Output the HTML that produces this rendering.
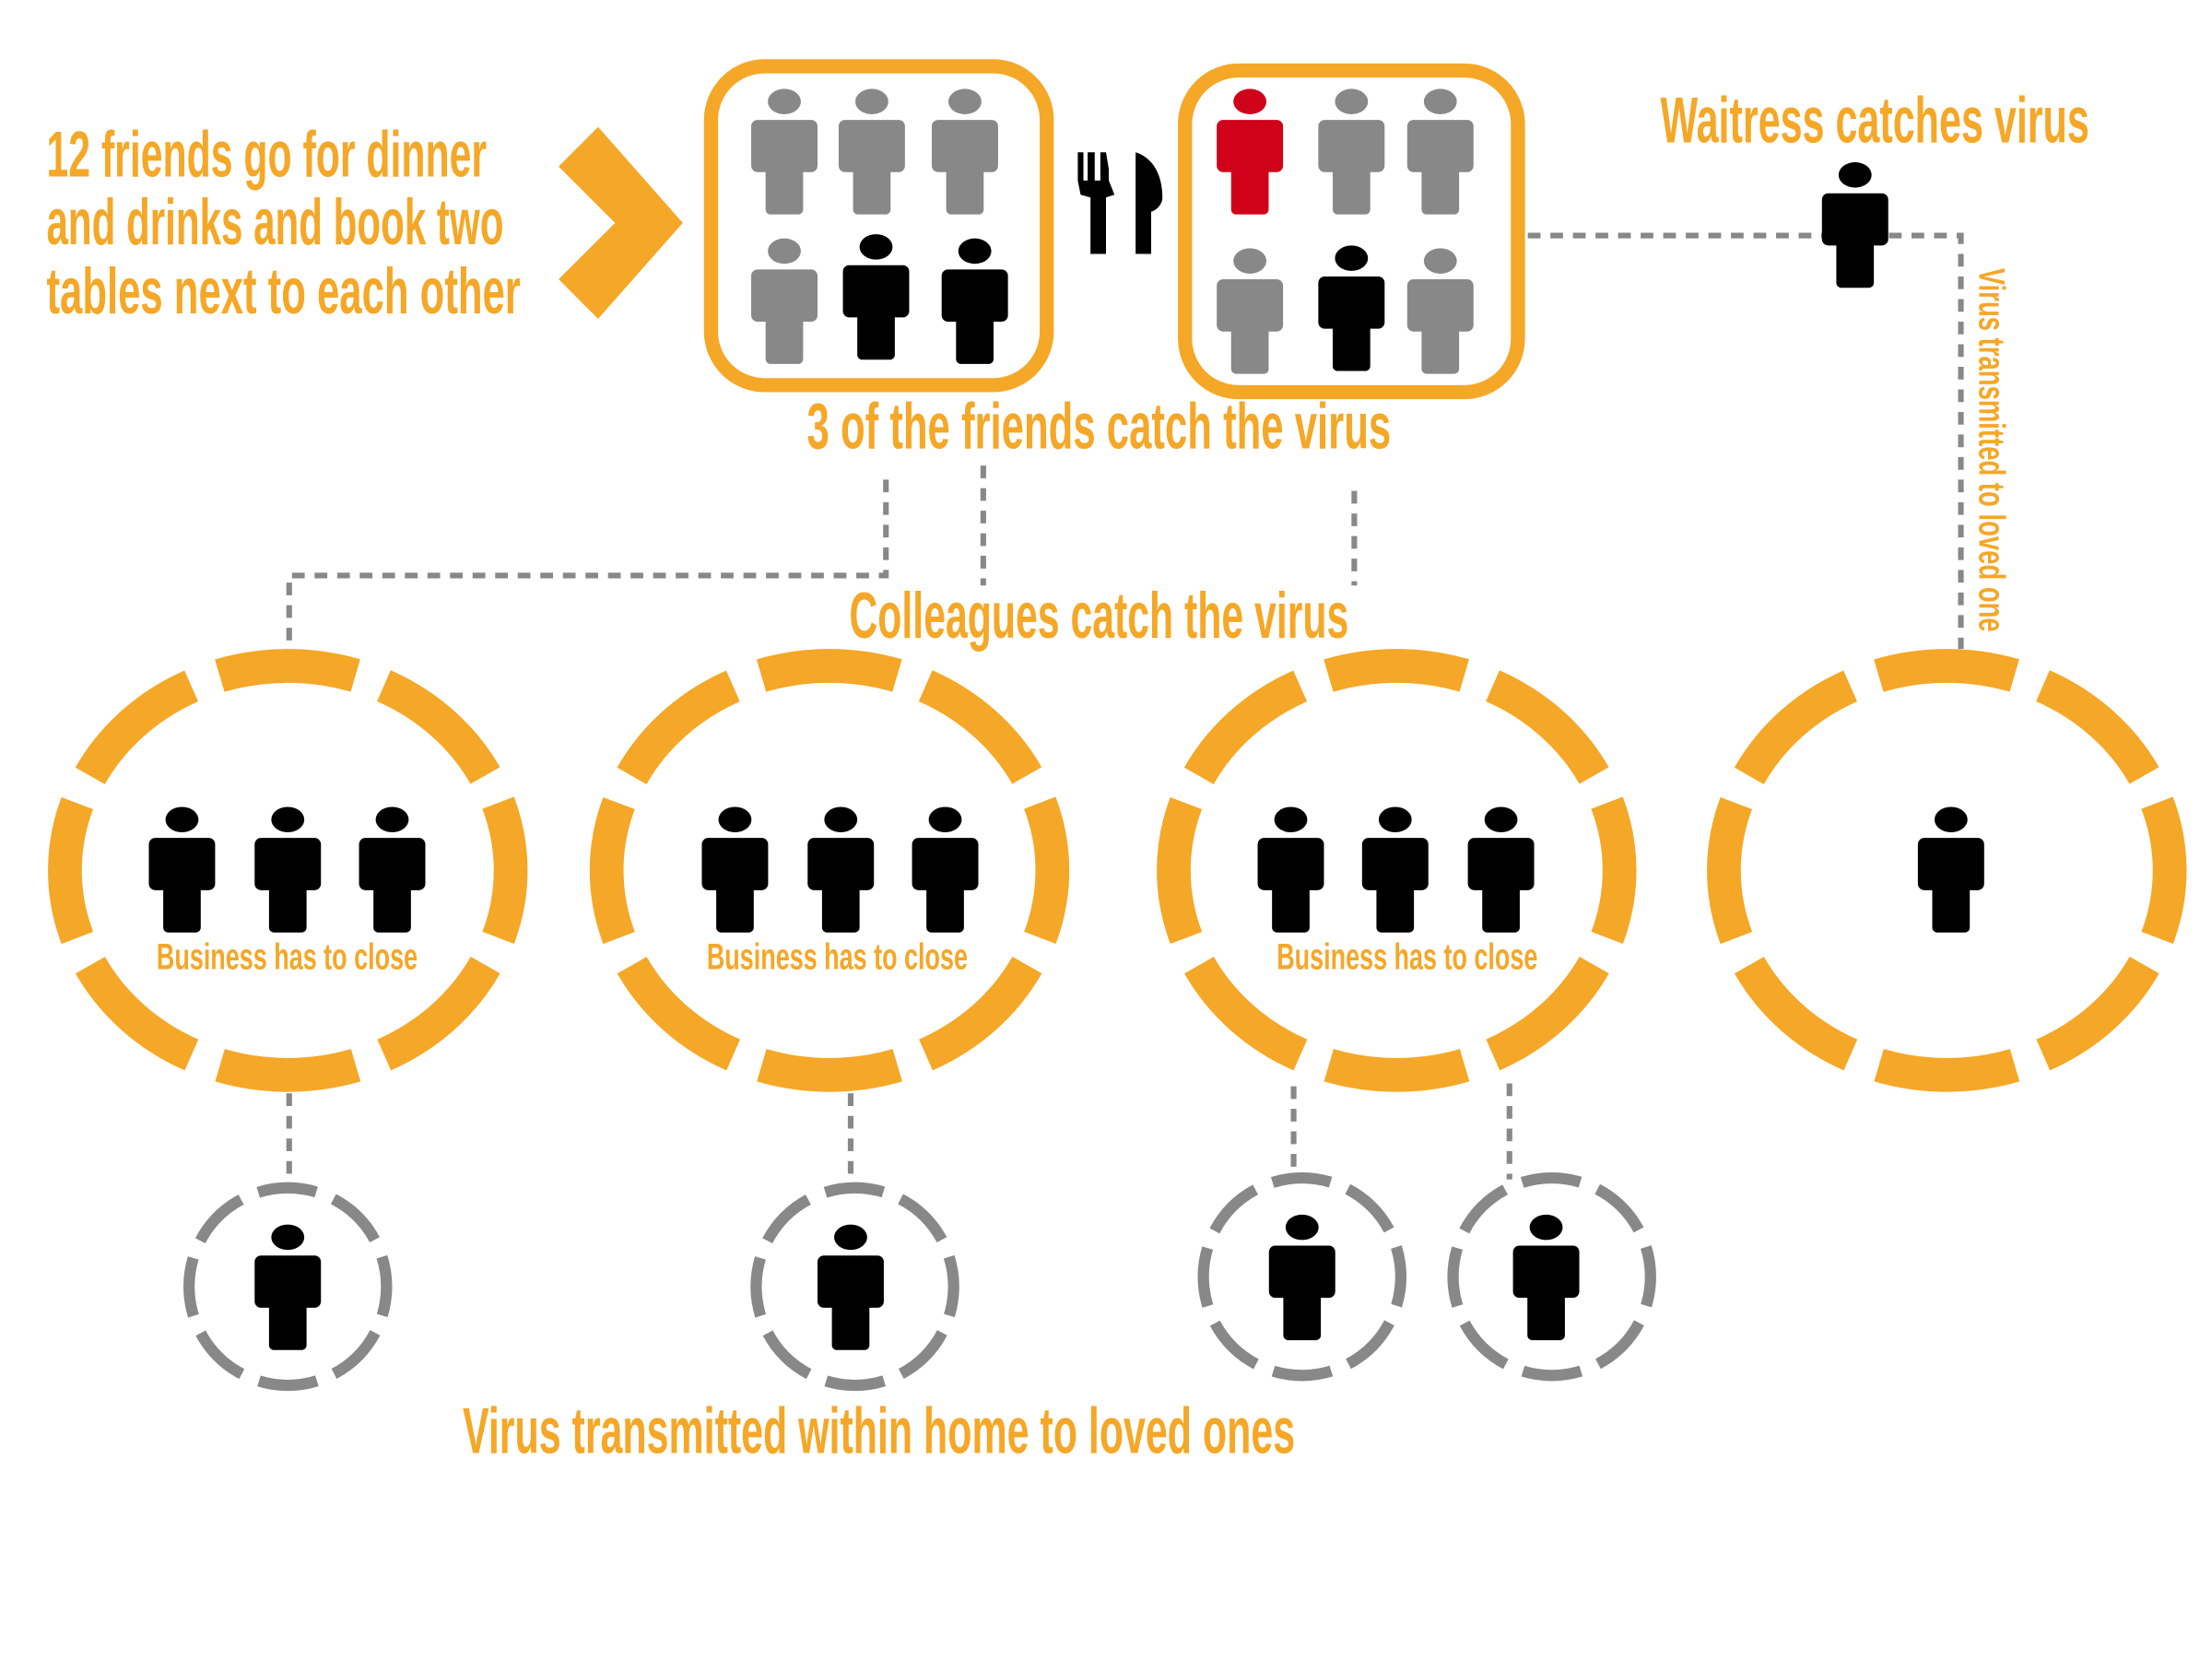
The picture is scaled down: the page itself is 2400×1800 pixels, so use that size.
<!DOCTYPE html>
<html><head><meta charset="utf-8"><style>
html,body{margin:0;padding:0;background:#fff;width:2400px;height:1800px;overflow:hidden}
text{font-family:"Liberation Sans Narrow","Liberation Sans",sans-serif;font-weight:bold;fill:#F5A727}
</style></head><body>
<svg width="2400" height="1800" viewBox="0 0 1568 1176" xmlns="http://www.w3.org/2000/svg">
<defs>
<g id="p">
<ellipse cx="0" cy="0" rx="11.7" ry="9"/>
<rect x="-23.5" y="13" width="47" height="37" rx="4.5"/>
<rect x="-13.3" y="20" width="26.6" height="60" rx="3.5"/>
</g>
</defs>
<rect width="1568" height="1176" fill="#fff"/>

<!-- left text -->
<text x="33" y="125" font-size="46" textLength="312" lengthAdjust="spacingAndGlyphs">12 friends go for dinner</text>
<text x="33" y="173" font-size="46" textLength="324" lengthAdjust="spacingAndGlyphs">and drinks and book two</text>
<text x="33" y="222" font-size="46" textLength="336" lengthAdjust="spacingAndGlyphs">tables next to each other</text>

<!-- chevron -->
<polygon points="396,118 424,90 484,158 424,226 396,198 436,158" fill="#F5A727"/>

<!-- box 1 -->
<rect x="504" y="47" width="238" height="226" rx="38" fill="none" stroke="#F5A727" stroke-width="10"/>
<g fill="#888"><use href="#p" x="556" y="72"/><use href="#p" x="618" y="72"/><use href="#p" x="684" y="72"/><use href="#p" x="556" y="178"/></g>
<g fill="#000"><use href="#p" x="621" y="175"/><use href="#p" x="691" y="178"/></g>

<!-- cutlery -->
<g fill="#000">
<path d="M764,108 L768,108 L768,128 L771,128 L771,108 L776,108 L776,128 L780,128 L780,108 L784,108 L786,120 L786,128 L790,138 L784,140 L784,180 L773,180 L773,140 L766,138 L764,128 Z"/>
<path d="M805,108 C818,112 824,125 824,140 C824,146 818,150 816,150 L816,180 L805,180 Z"/>
</g>

<!-- box 2 -->
<rect x="840" y="50" width="236" height="228" rx="38" fill="none" stroke="#F5A727" stroke-width="10"/>
<use href="#p" x="886" y="72" fill="#D0021B"/>
<g fill="#888"><use href="#p" x="958" y="72"/><use href="#p" x="1021" y="72"/><use href="#p" x="886" y="185"/><use href="#p" x="1021" y="185"/></g>
<use href="#p" x="958" y="183" fill="#000"/>

<text x="572" y="318" font-size="46" textLength="414" lengthAdjust="spacingAndGlyphs">3 of the friends catch the virus</text>
<text x="1177" y="101" font-size="46" textLength="304" lengthAdjust="spacingAndGlyphs">Waitress catches virus</text>
<text x="602" y="452" font-size="46" textLength="354" lengthAdjust="spacingAndGlyphs">Colleagues catch the virus</text>
<text x="328" y="1030" font-size="46" textLength="590" lengthAdjust="spacingAndGlyphs">Virus transmitted within home to loved ones</text>

<!-- dashed connectors -->
<g fill="none" stroke="#888" stroke-width="4" stroke-dasharray="9 7">
<path d="M1083,167 L1390,167 L1390,460"/>
<path d="M628,340 L628,408 L205,408 L205,462"/>
<path d="M697,330 L697,415"/>
<path d="M960,348 L960,415"/>
<path d="M205,775 L205,842"/>
<path d="M603,775 L603,842"/>
<path d="M917,770 L917,836"/>
<path d="M1070,768 L1070,836"/>
</g>
<use href="#p" x="1315" y="124" fill="#000"/>
<text transform="translate(1403,190) rotate(90)" font-size="26" textLength="258" lengthAdjust="spacingAndGlyphs">Virus transmitted to loved one</text>

<!-- big circles -->
<g fill="none" stroke="#F5A727" stroke-width="24" stroke-dasharray="82 18" stroke-dashoffset="41">
<ellipse cx="204" cy="617" rx="158" ry="145" pathLength="800"/>
<ellipse cx="588" cy="617" rx="158" ry="145" pathLength="800"/>
<ellipse cx="990" cy="617" rx="158" ry="145" pathLength="800"/>
<ellipse cx="1380" cy="617" rx="158" ry="145" pathLength="800"/>
</g>
<g fill="#000">
<use href="#p" x="129" y="581"/><use href="#p" x="204" y="581"/><use href="#p" x="278" y="581"/>
<use href="#p" x="521" y="581"/><use href="#p" x="596" y="581"/><use href="#p" x="670" y="581"/>
<use href="#p" x="915" y="581"/><use href="#p" x="989" y="581"/><use href="#p" x="1064" y="581"/>
<use href="#p" x="1383" y="581"/>
</g>
<text x="111" y="687" font-size="26" textLength="185" lengthAdjust="spacingAndGlyphs">Business has to close</text>
<text x="501" y="687" font-size="26" textLength="185" lengthAdjust="spacingAndGlyphs">Business has to close</text>
<text x="905" y="687" font-size="26" textLength="185" lengthAdjust="spacingAndGlyphs">Business has to close</text>

<!-- small circles -->
<g fill="none" stroke="#888" stroke-width="8" stroke-dasharray="76 24" stroke-dashoffset="38">
<circle cx="204" cy="912" r="70" pathLength="800"/>
<circle cx="606" cy="912" r="70" pathLength="800"/>
<circle cx="923" cy="905" r="70" pathLength="800"/>
<circle cx="1100" cy="905" r="70" pathLength="800"/>
</g>
<g fill="#000">
<use href="#p" x="204" y="877"/><use href="#p" x="603" y="877"/><use href="#p" x="923" y="870"/><use href="#p" x="1096" y="870"/>
</g>
</svg>
</body></html>
